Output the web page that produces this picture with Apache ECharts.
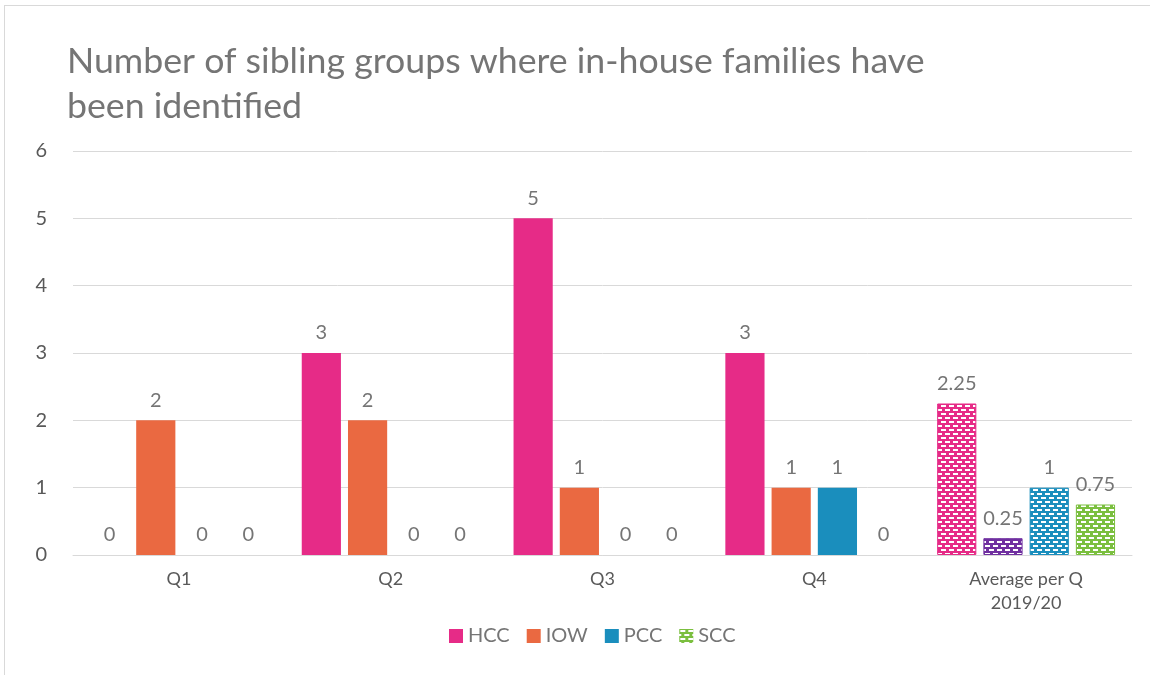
<!DOCTYPE html>
<html>
<head>
<meta charset="utf-8">
<script src="https://cdn.jsdelivr.net/npm/echarts@6/dist/echarts.min.js"></script>
<style>
  html, body { margin: 0; padding: 0; background: #fff; }
  #frame { position: absolute; left: 4px; top: 5px; width: 1160px; height: 700px; border: 1px solid #d9d9d9; box-sizing: border-box; }
  #myChart { position: absolute; left: 0; top: 0; width: 1150px; height: 675px; }
</style>
</head>
<body>
<div id="frame"></div>
<div id="myChart"></div>
<script>
const categories = ['Q1', 'Q2', 'Q3', 'Q4', 'Average per Q\n2019/20'];
const hccData = [0, 3, 5, 3, 2.25];
const iowData = [2, 2, 1, 1, 0.25];
const pccData = [0, 0, 0, 1, 1];
const sccData = [0, 0, 0, 0, 0.75];

const colors = {
  HCC: '#e62b87',
  IOW: '#ea6941',
  PCC: '#1a8ebd',
  SCC: '#7bbf3f',
  IOWavg: '#7030a0'
};

// small brick-like pattern of white dashes, used for the average bars
function makePattern (base) {
  const c = document.createElement('canvas');
  c.width = 8;
  c.height = 8;
  const ctx = c.getContext('2d');
  ctx.fillStyle = base;
  ctx.fillRect(0, 0, 8, 8);
  ctx.fillStyle = '#ffffff';
  ctx.fillRect(1, 1, 5, 2);
  ctx.fillRect(5, 5, 3, 2);
  ctx.fillRect(0, 5, 2, 2);
  return { image: c, repeat: 'repeat' };
}

function withAverage (values, avgColor) {
  return values.map(function (v, i) {
    if (i === values.length - 1) {
      return { value: v, itemStyle: { color: makePattern(avgColor), borderColor: avgColor, borderWidth: 1 } };
    }
    return v;
  });
}

const labelStyle = {
  show: true,
  position: 'top',
  distance: 10,
  color: '#757575',
  fontSize: 20,
  fontFamily: 'Lato'
};

const myChart = echarts.init(document.getElementById('myChart'));
myChart.setOption({
  animation: false,
  textStyle: { fontFamily: 'Lato' },
  title: {
    text: 'Number of sibling groups where in-house families have\nbeen identified',
    left: 62,
    top: 34,
    textStyle: {
      color: '#757575',
      fontSize: 35.7,
      fontWeight: 'normal',
      fontFamily: 'Lato',
      lineHeight: 45
    }
  },
  legend: {
    bottom: 24,
    left: 444,
    itemWidth: 14,
    itemHeight: 14,
    itemGap: 17,
    icon: 'rect',
    textStyle: { color: '#757575', fontSize: 20, fontFamily: 'Lato' },
    data: ['HCC', 'IOW', 'PCC', 'SCC']
  },
  grid: {
    left: 73,
    right: 18,
    top: 151,
    bottom: 120
  },
  xAxis: {
    type: 'category',
    data: categories,
    axisTick: { show: false },
    axisLine: { lineStyle: { color: '#d9d9d9', width: 1 } },
    axisLabel: {
      color: '#595959',
      fontSize: 18,
      fontFamily: 'Lato',
      margin: 12,
      lineHeight: 24
    }
  },
  yAxis: {
    type: 'value',
    min: 0,
    max: 6,
    interval: 1,
    axisLine: { show: false },
    axisTick: { show: false },
    splitLine: { lineStyle: { color: '#d9d9d9', width: 1 } },
    axisLabel: { color: '#595959', fontSize: 20, fontFamily: 'Lato', margin: 26 }
  },
  series: [
    {
      name: 'HCC',
      type: 'bar',
      data: withAverage(hccData, colors.HCC),
      itemStyle: { color: colors.HCC },
      barGap: '18%',
      barCategoryGap: '16%',
      label: labelStyle
    },
    {
      name: 'IOW',
      type: 'bar',
      data: withAverage(iowData, colors.IOWavg),
      itemStyle: { color: colors.IOW },
      label: labelStyle
    },
    {
      name: 'PCC',
      type: 'bar',
      data: withAverage(pccData, colors.PCC),
      itemStyle: { color: colors.PCC },
      label: labelStyle
    },
    {
      name: 'SCC',
      type: 'bar',
      data: withAverage(sccData, colors.SCC),
      itemStyle: { color: makePattern(colors.SCC) },
      label: labelStyle
    }
  ]
});
</script>
</body>
</html>
